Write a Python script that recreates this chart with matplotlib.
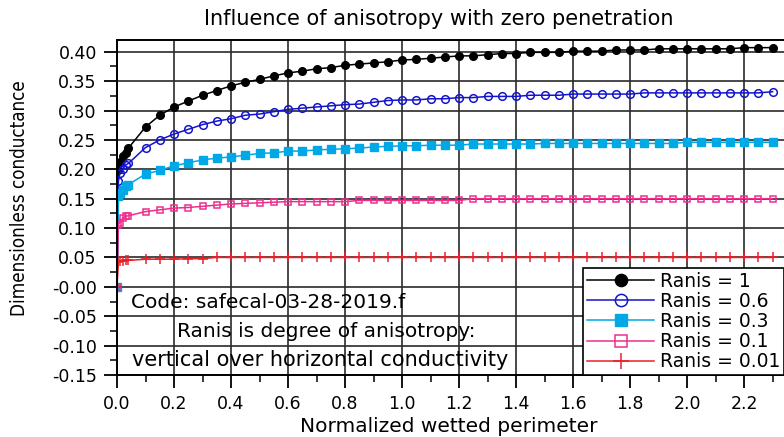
import matplotlib
matplotlib.use("Agg")
import matplotlib.pyplot as plt
from matplotlib.ticker import MultipleLocator

# normalized wetted perimeter
x = [0.0, 0.005, 0.01, 0.02, 0.03, 0.04,
     0.10, 0.15, 0.20, 0.25, 0.30, 0.35, 0.40, 0.45, 0.50, 0.55,
     0.60, 0.65, 0.70, 0.75, 0.80, 0.85, 0.90, 0.95, 1.00, 1.05,
     1.10, 1.15, 1.20, 1.25, 1.30, 1.35, 1.40, 1.45, 1.50, 1.55,
     1.60, 1.65, 1.70, 1.75, 1.80, 1.85, 1.90, 1.95, 2.00, 2.05,
     2.10, 2.15, 2.20, 2.25, 2.30]

# dimensionless conductance for each Ranis
ranis_1 = [0.0, 0.199, 0.213, 0.222, 0.228, 0.236,
           0.272, 0.292, 0.306, 0.316, 0.326, 0.334, 0.342, 0.348, 0.353, 0.359,
           0.364, 0.367, 0.371, 0.373, 0.377, 0.379, 0.381, 0.383, 0.386, 0.387,
           0.389, 0.391, 0.393, 0.393, 0.395, 0.397, 0.397, 0.399, 0.399, 0.399,
           0.401, 0.401, 0.401, 0.403, 0.403, 0.403, 0.405, 0.405, 0.405, 0.405,
           0.405, 0.405, 0.407, 0.407, 0.407]
ranis_06 = [0.0, 0.180, 0.193, 0.200, 0.207, 0.210,
            0.237, 0.250, 0.260, 0.268, 0.276, 0.282, 0.286, 0.292, 0.294, 0.298,
            0.302, 0.304, 0.306, 0.308, 0.310, 0.311, 0.314, 0.317, 0.318, 0.318,
            0.320, 0.320, 0.322, 0.322, 0.324, 0.324, 0.324, 0.326, 0.326, 0.326,
            0.328, 0.328, 0.328, 0.328, 0.328, 0.330, 0.330, 0.330, 0.330, 0.330,
            0.330, 0.330, 0.330, 0.330, 0.332]
ranis_03 = [0.0, 0.154, 0.159, 0.165, 0.171, 0.174,
            0.192, 0.198, 0.206, 0.211, 0.216, 0.219, 0.221, 0.224, 0.227, 0.228,
            0.231, 0.231, 0.233, 0.234, 0.235, 0.236, 0.238, 0.239, 0.240, 0.240,
            0.241, 0.241, 0.241, 0.243, 0.243, 0.243, 0.243, 0.243, 0.244, 0.244,
            0.244, 0.244, 0.244, 0.244, 0.244, 0.244, 0.244, 0.244, 0.246, 0.246,
            0.246, 0.246, 0.246, 0.246, 0.246]
ranis_01 = [0.0, 0.106, 0.109, 0.117, 0.120, 0.121,
            0.128, 0.131, 0.134, 0.135, 0.137, 0.139, 0.141, 0.142, 0.143, 0.144,
            0.145, 0.145, 0.145, 0.145, 0.145, 0.147, 0.147, 0.147, 0.147, 0.147,
            0.147, 0.147, 0.147, 0.150, 0.150, 0.150, 0.150, 0.150, 0.150, 0.150,
            0.150, 0.150, 0.150, 0.150, 0.150, 0.150, 0.150, 0.150, 0.150, 0.150,
            0.150, 0.150, 0.150, 0.150, 0.150]
ranis_001 = [0.0, 0.043, 0.044, 0.044, 0.045, 0.045,
             0.047, 0.047, 0.047, 0.048, 0.048, 0.050, 0.050, 0.050, 0.050, 0.050,
             0.050, 0.050, 0.050, 0.050, 0.050, 0.050, 0.050, 0.050, 0.050, 0.050,
             0.050, 0.050, 0.050, 0.050, 0.050, 0.050, 0.050, 0.050, 0.050, 0.050,
             0.050, 0.050, 0.050, 0.050, 0.050, 0.050, 0.050, 0.050, 0.050, 0.050,
             0.050, 0.050, 0.050, 0.050, 0.050]

labels = ["Ranis = 1", "Ranis = 0.6", "Ranis = 0.3", "Ranis = 0.1", "Ranis = 0.01"]

y_ticks = [-0.15, -0.10, -0.05, 0.0, 0.05, 0.10, 0.15, 0.20, 0.25, 0.30, 0.35, 0.40]
y_tick_labels = ["-0.15", "-0.10", "-0.05", "-0.00", "0.05", "0.10", "0.15",
                 "0.20", "0.25", "0.30", "0.35", "0.40"]
x_ticks = [0.0, 0.2, 0.4, 0.6, 0.8, 1.0, 1.2, 1.4, 1.6, 1.8, 2.0, 2.2]
x_tick_labels = ["0.0", "0.2", "0.4", "0.6", "0.8", "1.0", "1.2", "1.4",
                 "1.6", "1.8", "2.0", "2.2"]

fig = plt.figure(figsize=(7.84, 4.37), dpi=100)
ax = fig.add_axes([117 / 784, 62 / 437, 667 / 784, 335 / 437])

ax.plot(x, ranis_1, color="black", marker="o", markersize=5.5, lw=1.1, label=labels[0])
ax.plot(x, ranis_06, color="#1414cc", marker="o", markersize=5.5, mfc="none",
        mew=1.1, lw=1.1, label=labels[1])
ax.plot(x, ranis_03, color="#00a9e6", marker="s", markersize=5.5, lw=1.1, label=labels[2])
ax.plot(x, ranis_01, color="#ec2f8e", marker="s", markersize=5, mfc="none",
        mew=1.1, lw=1.1, label=labels[3])
ax.plot(x, ranis_001, color="#e8202a", marker="+", markersize=7, mew=1.1,
        lw=1.1, label=labels[4])

ax.set_xlim(0, 2.34)
ax.set_ylim(-0.15, 0.42)
ax.set_xticks(x_ticks)
ax.set_xticklabels(x_tick_labels)
ax.set_yticks(y_ticks)
ax.set_yticklabels(y_tick_labels)
ax.xaxis.set_minor_locator(MultipleLocator(0.1))
ax.yaxis.set_minor_locator(MultipleLocator(0.025))
ax.tick_params(which="major", direction="out", length=9.5, width=1.3,
               labelsize=12.5, pad=5, top=False, right=False)
ax.tick_params(which="minor", direction="out", length=5, width=1.1,
               top=False, right=False)
ax.grid(True, which="major", color="#2a2a2a", lw=1.2)
ax.set_axisbelow(True)
for side in ["left", "bottom", "top"]:
    ax.spines[side].set_linewidth(1.4)
ax.spines["right"].set_visible(False)

# notes drawn straight on top of the grid
ax.text(0.05, -0.027, "Code: safecal-03-28-2019.f", fontsize=14.5,
        ha="left", va="center")
ax.text(0.735, -0.076, "Ranis is degree of anisotropy:", fontsize=14.5,
        ha="center", va="center")
ax.text(0.712, -0.124, "vertical over horizontal conductivity", fontsize=15,
        ha="center", va="center")

leg = ax.legend(loc="upper right", bbox_to_anchor=(1.0, 1 - 268 / 437),
                bbox_transform=fig.transFigure, borderaxespad=0,
                fontsize=13.5, handlelength=3.6, markerscale=1.6,
                labelspacing=0.06, borderpad=0.2, handletextpad=0.3,
                fancybox=False, framealpha=1, edgecolor="black")
leg.get_frame().set_linewidth(1.2)

fig.text(439 / 784, 1 - 19 / 437, "Influence of anisotropy with zero penetration",
         fontsize=15, ha="center", va="center")
fig.text(449 / 784, 1 - 426 / 437, "Normalized wetted perimeter",
         fontsize=14.5, ha="center", va="center")
fig.text(20 / 784, 1 - 198 / 437, "Dimensionless conductance",
         fontsize=13.5, rotation=90, ha="center", va="center",
         family="DejaVu Sans", fontstretch="condensed")

fig.savefig("out.png", dpi=100)
